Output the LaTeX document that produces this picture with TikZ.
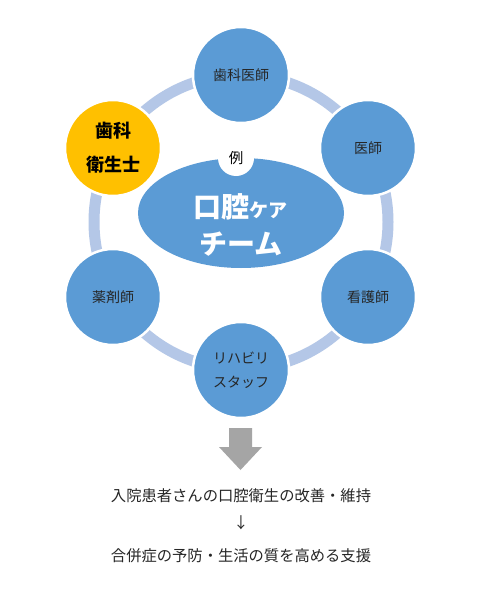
\documentclass[tikz,border=0pt]{standalone}
\usepackage{fontspec}
\usetikzlibrary{shapes.geometric}
\newfontfamily\jp{Noto Sans CJK JP}
\definecolor{mblue}{HTML}{5B9BD5}
\definecolor{ringc}{HTML}{B4C7E7}
\definecolor{myel}{HTML}{FFC000}
\definecolor{agray}{HTML}{A5A5A5}
\tikzset{
  member/.style={circle, fill=mblue, draw=white, line width=2.5pt, minimum size=96pt, inner sep=0pt, align=center, font=\jp\fontsize{14}{24}\selectfont, text=black!85},
  hyg/.style={member, fill=myel, font=\jp\bfseries\fontsize{18}{34}\selectfont, text=black},
  ringline/.style={draw=ringc, line width=11pt},
  outtext/.style={font=\jp\fontsize{15.3}{18}\selectfont, text=black!85}
}
\begin{document}
\begin{tikzpicture}[x=1pt,y=-1pt]
\useasboundingbox (0,0) rectangle (477,589);
\fill[white] (0,0) rectangle (477,589);
\coordinate (c) at (241,222);
\draw[ringline] (c) circle (147);
\node[member] (dent) at (241,75) {歯科医師};
\node[member] (doc) at (368,148) {医師};
\node[member] (nurse) at (368,297) {看護師};
\node[member] (reha) at (241,370) {リハビリ\\スタッフ};
\node[member] (pharm) at (113,297) {薬剤師};
\node[hyg] (dh) at (113,148) {歯科\\衛生士};
\node[ellipse, fill=mblue, minimum width=206pt, minimum height=110pt, inner sep=0pt] (team) at (241,213) {};
\node[circle, fill=white, minimum size=36pt, inner sep=0pt, font=\jp\fontsize{14.5}{14.5}\selectfont] (ex) at (236,158) {例};
\node[text=white, font=\jp\bfseries\fontsize{28}{28}\selectfont] (t1) at (240,207) {口腔{\fontsize{19}{19}\selectfont ケア}};
\node[text=white, font=\jp\bfseries\fontsize{28}{28}\selectfont] (t2) at (241,244) {チーム};
\fill[agray] (229,428) -- (252,428) -- (252,447) -- (262,447) -- (240.5,470) -- (219,447) -- (229,447) -- cycle;
\node[outtext] (l1) at (241,496) {入院患者さんの口腔衛生の改善・維持};
\node[outtext] (l2) at (241,523) {↓};
\node[outtext] (l3) at (241,556) {合併症の予防・生活の質を高める支援};
\end{tikzpicture}
\end{document}
